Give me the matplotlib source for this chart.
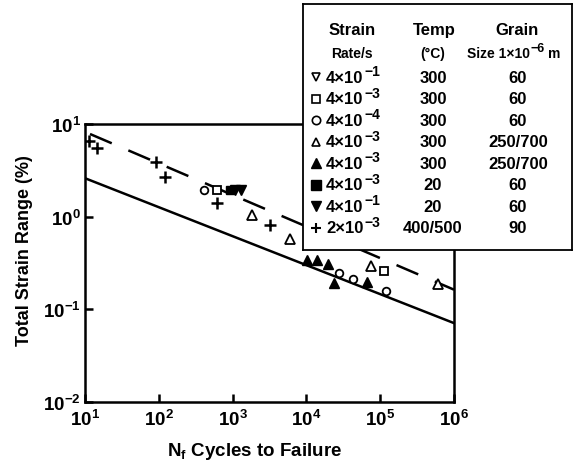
import math

import matplotlib
matplotlib.use("Agg")
import matplotlib.pyplot as plt
from matplotlib.ticker import FixedLocator, FuncFormatter, NullLocator

plt.rcParams['font.family'] = ['Liberation Sans', 'DejaVu Sans']
plt.rcParams['font.weight'] = 'bold'
plt.rcParams['mathtext.fontset'] = 'custom'
plt.rcParams['mathtext.rm'] = 'Liberation Sans:bold'
plt.rcParams['mathtext.it'] = 'Liberation Sans:bold'
plt.rcParams['mathtext.bf'] = 'Liberation Sans:bold'
plt.rcParams['mathtext.default'] = 'rm'
plt.rcParams['lines.scale_dashes'] = False

# data (cycles to failure, total strain range %)
plus_n = [11.3, 14.4, 92, 122, 620, 3200]
plus_s = [6.6, 5.5, 3.9, 2.66, 1.41, 0.81]
circ_n = [416, 27900, 42500, 120000]
circ_s = [1.95, 0.245, 0.211, 0.159]
sq_open_n = [617, 112000]
sq_open_s = [1.94, 0.262]
sq_fill_n = [912]
sq_fill_s = [1.96]
tdown_fill_n = [1070, 1320]
tdown_fill_s = [1.96, 1.96]
tup_open_n = [1855, 6030, 75500, 610000]
tup_open_s = [1.03, 0.574, 0.296, 0.188]
tup_fill_n = [10200, 13900, 19800, 23900, 66500]
tup_fill_s = [0.341, 0.341, 0.309, 0.191, 0.196]

solid_n = [10, 1e6]
solid_s = [2.6, 0.071]
dash_n = [11.7, 1e6]
dash_s = [7.8, 0.163]

# legend table
leg_markers = ['v', 's', 'o', '^', '^', 's', 'v', '+']
leg_filled = [False, False, False, False, True, True, True, False]
leg_mant = ['4', '4', '4', '4', '4', '4', '4', '2']
leg_exp = ['\u22121', '\u22123', '\u22124', '\u22123', '\u22123', '\u22123', '\u22121', '\u22123']
leg_temps = ['300', '300', '300', '300', '300', '20', '20', '400/500']
leg_grains = ['60', '60', '60', '250/700', '250/700', '60', '60', '90']

fig = plt.figure(figsize=(5.73, 4.64), dpi=100)
W, H = 573, 464
ax = fig.add_axes([85 / W, 1 - 403 / H, 369 / W, 278 / H])
ax.set_xscale('log')
ax.set_yscale('log')
ax.set_xlim(10, 1e6)
ax.set_ylim(1e-2, 1e1)

ax.plot(solid_n, solid_s, color='black', lw=1.8)
ax.plot(dash_n, dash_s, color='black', lw=1.8, linestyle=(0, (17, 13)))

ms = 6.5
ax.plot(plus_n, plus_s, '+', color='black', ms=8, mew=1.8)
ax.plot(circ_n, circ_s, 'o', mfc='white', mec='black', ms=5.5, mew=1.3)
ax.plot(sq_open_n, sq_open_s, 's', mfc='white', mec='black', ms=5.5, mew=1.3)
ax.plot(sq_fill_n, sq_fill_s, 's', color='black', ms=6)
ax.plot(tdown_fill_n, tdown_fill_s, 'v', color='black', ms=ms)
ax.plot(tup_open_n, tup_open_s, '^', mfc='white', mec='black', ms=ms, mew=1.3)
ax.plot(tup_fill_n, tup_fill_s, '^', color='black', ms=ms)

for sp in ax.spines.values():
    sp.set_linewidth(1.8)
ax.xaxis.set_major_locator(FixedLocator([1e1, 1e2, 1e3, 1e4, 1e5, 1e6]))
ax.yaxis.set_major_locator(FixedLocator([1e-2, 1e-1, 1e0, 1e1]))
ax.xaxis.set_minor_locator(NullLocator())
ax.yaxis.set_minor_locator(NullLocator())
fmt = FuncFormatter(lambda v, p: r'$10^{%d}$' % round(math.log10(v)))
ax.xaxis.set_major_formatter(fmt)
ax.yaxis.set_major_formatter(fmt)
ax.tick_params(direction='in', length=6, width=1.8, labelsize=13.5, pad=5)
ax.tick_params(axis='y', pad=3)

ax.set_xlabel(r'N$_\mathrm{f}$ Cycles to Failure', fontsize=13.5, fontweight='bold')
ax.xaxis.set_label_coords(0.46, -0.135)
ax.set_ylabel('Total Strain Range (%)', fontsize=13, fontweight='bold')
ax.yaxis.set_label_coords(-0.14, 0.55)

# legend box drawn as a table in pixel units
lg = fig.add_axes([303 / W, 1 - 251 / H, 269 / W, 246 / H], zorder=5)
lg.set_xlim(303, 572)
lg.set_ylim(251, 5)
lg.set_xticks([])
lg.set_yticks([])
for sp in lg.spines.values():
    sp.set_linewidth(1.3)

hdr = dict(fontsize=12, fontweight='bold', ha='center', va='baseline')
sub = dict(fontsize=10, fontweight='bold', ha='center', va='baseline')
lg.text(352, 35, 'Strain', **hdr)
lg.text(434, 35, 'Temp', **hdr)
lg.text(517, 35, 'Grain', **hdr)
lg.text(352, 58, 'Rate/s', **sub)
lg.text(433, 58, '(°C)', **sub)
size_base = lg.text(467, 58, 'Size 1\u00d710', fontsize=10, fontweight='bold',
                    ha='left', va='baseline')
exp6 = lg.annotate('\u22126', xy=(1.0, 0.45), xycoords=size_base, xytext=(0.5, 0),
                   textcoords='offset points', fontsize=9, fontweight='bold',
                   ha='left', va='bottom')
lg.annotate('m', xy=(1.0, 0.0), xycoords=(exp6, size_base), xytext=(2.5, 0),
            textcoords='offset points', fontsize=10, fontweight='bold',
            ha='left', va='bottom')

for i in range(len(leg_mant)):
    yb = 83 + 21.5 * i
    m = leg_markers[i]
    if m == '+':
        lg.plot(316, yb - 5, '+', color='black', ms=7, mew=1.5)
    elif leg_filled[i]:
        lg.plot(316, yb - 5, m, color='black', ms=6.5)
    else:
        lg.plot(316, yb - 5, m, mfc='white', mec='black', ms=6, mew=1.2)
    base = lg.text(326, yb, leg_mant[i] + '\u00d710', fontsize=12, fontweight='bold',
                   ha='left', va='baseline')
    lg.annotate(leg_exp[i], xy=(1.0, 0.45), xycoords=base, xytext=(0.5, 0),
                textcoords='offset points', fontsize=10, fontweight='bold',
                ha='left', va='bottom')
    lg.text(433, yb, leg_temps[i], fontsize=12, fontweight='bold', ha='center', va='baseline')
    lg.text(518, yb, leg_grains[i], fontsize=12, fontweight='bold', ha='center', va='baseline')

fig.savefig('out.png', dpi=100)
